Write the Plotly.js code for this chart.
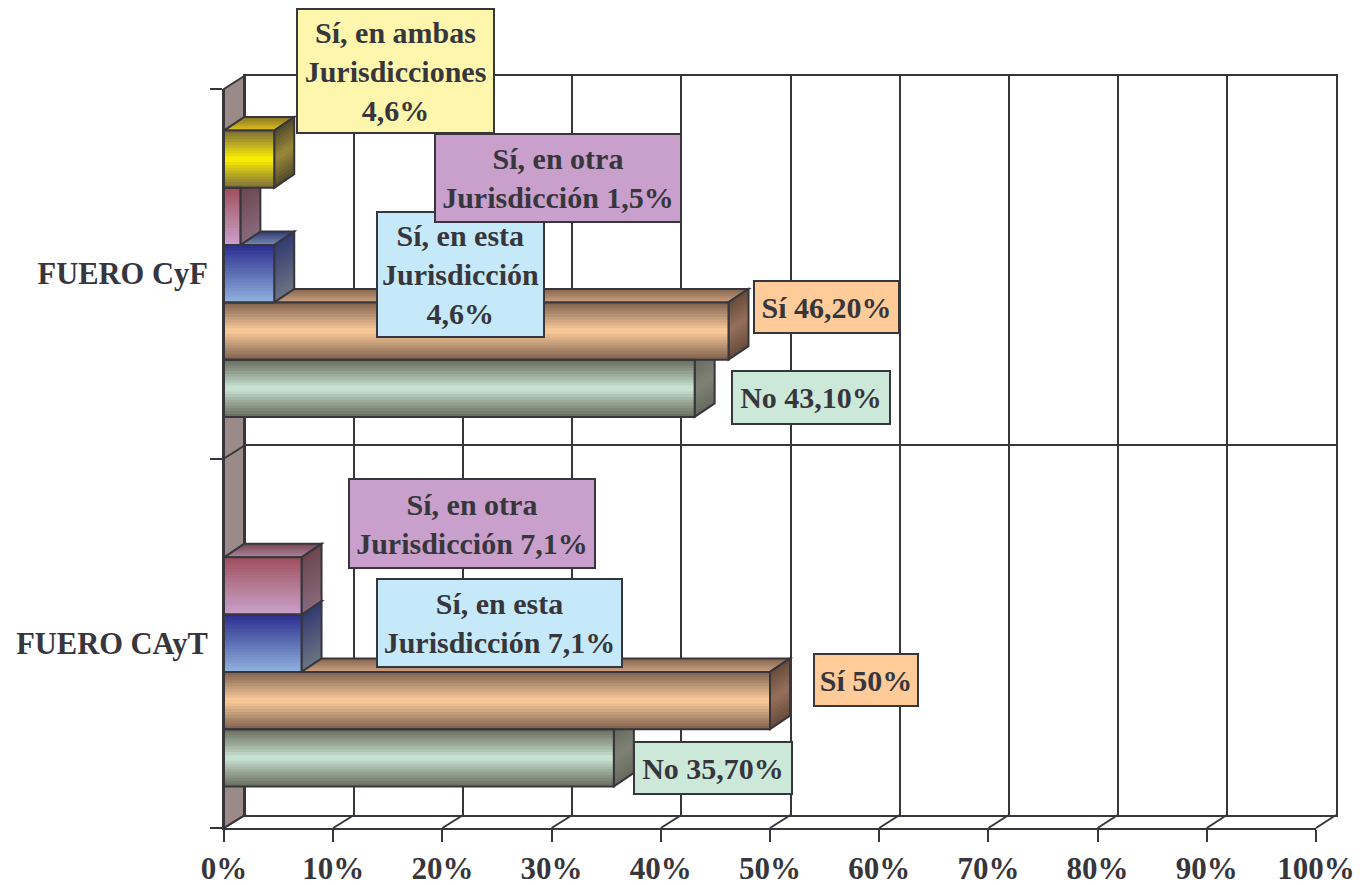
<!DOCTYPE html>
<html>
<head>
<meta charset="utf-8">
<script src="https://cdn.plot.ly/plotly-3.0.1.min.js"></script>
<style>html,body{margin:0;padding:0;background:#fff}#chart{width:1362px;height:885px}</style>
</head>
<body>
<div id="chart"></div>
<script>
// ---- data ----
const categories = ['FUERO CAyT', 'FUERO CyF'];
const valuesNo = [35.7, 43.1];
const valuesSi = [50, 46.2];
const valuesEsta = [7.1, 4.6];
const valuesOtra = [7.1, 1.5];
const valuesAmbas = [0, 4.6];
const xTickVals = [0, 10, 20, 30, 40, 50, 60, 70, 80, 90, 100];

// ---- label boxes: text, fill, left, right, top, bottom (in page pixels) ----
const labelText = [
  'No 35,70%', 'Sí 50%', 'Sí, en esta<br>Jurisdicción 7,1%', 'Sí, en otra<br>Jurisdicción 7,1%',
  'No 43,10%', 'Sí 46,20%', 'Sí, en esta<br>Jurisdicción<br>4,6%', 'Sí, en otra<br>Jurisdicción 1,5%',
  'Sí, en ambas<br>Jurisdicciones<br>4,6%'
];
const labelFill = ['#cce8d8', '#ffcc99', '#c6e9fa', '#c99fcb', '#cce8d8', '#ffcc99', '#c6e9fa', '#c99fcb', '#fff6ad'];
const labelBox = [
  [634, 792, 742, 794], [814, 918, 654, 706], [377, 622, 579, 667], [349, 595, 479, 568],
  [732, 890, 371, 424], [754, 899, 281, 333], [377, 544, 212, 337], [435, 681, 134, 222],
  [297, 494, 9, 133]
];

// ---- styling ----
const W = 1362, H = 885;
const frontL = 224, frontR = 1316, frontB = 828, frontT = 89;
const backL = 245, backR = 1336, backB = 815, backT = 75.5;
const ink = '#36363c';
const fontFam = '"Liberation Serif", "Times New Roman", serif';
const barW = 0.155, groupStart = -0.3875;
const dxData = 20 / (frontR - frontL) * 100;
const dyData = 13.5 / ((frontB - frontT) / 2);
const bandsFront = 20, bandsSide = 14, bandsTop = 6;

const seriesValues = [valuesNo, valuesSi, valuesEsta, valuesOtra, valuesAmbas];
// colour stops, first = top of bar
const frontStops = [
  ['#6c7262', '#9aa898', '#cce8d8', '#9aa898', '#6c7262'],
  ['#85654f', '#bf9a78', '#ffcc99', '#bf9a78', '#85654f'],
  ['#2e3192', '#5c70b4', '#8fb0dd'],
  ['#a0505f', '#b47a92', '#c99fcb'],
  ['#80723a', '#c0b020', '#fff200', '#c0b020', '#80723a']
];
const sideStops = [
  ['#686c5f', '#7f8275', '#686c5f'],
  ['#6b4e3d', '#94705c', '#6b4e3d'],
  ['#343c72', '#6a7282'],
  ['#6d4650', '#88687a'],
  ['#574e2c', '#9a8838', '#574e2c']
];
const topStops = [ // first = back edge
  ['#6c7262', '#9aa898'],
  ['#8a6a52', '#c89c7c'],
  ['#35407e', '#7484a8'],
  ['#7e4a58', '#a88098'],
  ['#8e7c22', '#d8ba20']
];

function hex(c) { return [1, 3, 5].map(i => parseInt(c.substr(i, 2), 16)); }
function mix(stops, t) {
  const n = stops.length - 1, p = Math.min(t * n, n - 1e-6), i = Math.floor(p), f = p - i;
  const a = hex(stops[i]), b = hex(stops[i + 1]);
  return 'rgb(' + a.map((v, k) => Math.round(v + (b[k] - v) * f)).join(',') + ')';
}

const traces = [];
// back wall axes: only carries the grid
traces.push({type: 'scatter', x: [0], y: [0], xaxis: 'x', yaxis: 'y', mode: 'none', hoverinfo: 'skip', showlegend: false});

const shapes = [];
const px = x => x / W, py = y => 1 - y / H;
function paperLine(x0, y0, x1, y1) {
  shapes.push({type: 'line', xref: 'paper', yref: 'paper', layer: 'below', x0: px(x0), y0: py(y0), x1: px(x1), y1: py(y1),
    line: {color: ink, width: 2}});
}
// left wall
shapes.push({type: 'path', xref: 'paper', yref: 'paper', layer: 'below', fillcolor: '#9b8b88', line: {color: ink, width: 2},
  path: `M${px(frontL)},${py(frontB)} L${px(backL)},${py(backB)} L${px(backL)},${py(backT)} L${px(frontL)},${py(frontT)} Z`});
// floor diagonals
xTickVals.forEach(v => {
  const f = frontL + (frontR - frontL) * v / 100, b = backL + (backR - backL) * v / 100;
  paperLine(f, frontB, b, backB);
});
paperLine(frontL, (frontB + frontT) / 2, backL, (backB + backT) / 2);

function poly(pts, fill, lineW) {
  shapes.push({type: 'path', xref: 'x2', yref: 'y2', layer: 'between', fillcolor: fill,
    line: lineW ? {color: ink, width: lineW} : {width: 0},
    path: 'M' + pts.map(p => p[0] + ',' + p[1]).join(' L') + ' Z'});
}

categories.forEach((cat, c) => {
  seriesValues.forEach((vals, s) => {
    const v = vals[c];
    if (!v) return;
    const lo = c + groupStart + s * barW, hi = lo + barW;
    // top face: each band runs from its back edge to the front edge, the next one paints over it
    for (let b = 0; b < bandsTop; b++) {
      const f = 1 - b / bandsTop;
      poly([[0, hi], [v, hi], [v + dxData * f, hi + dyData * f], [dxData * f, hi + dyData * f]], mix(topStops[s], b / (bandsTop - 1)));
    }
    poly([[0, hi], [v, hi], [v + dxData, hi + dyData], [dxData, hi + dyData]], 'rgba(0,0,0,0)', 2);
    // side face: same painting order, top to bottom
    for (let b = 0; b < bandsSide; b++) {
      const y0 = hi - barW * b / bandsSide;
      poly([[v, y0], [v + dxData, y0 + dyData], [v + dxData, lo + dyData], [v, lo]], mix(sideStops[s], b / (bandsSide - 1)));
    }
    poly([[v, hi], [v + dxData, hi + dyData], [v + dxData, lo + dyData], [v, lo]], 'rgba(0,0,0,0)', 2);
  });
});

// front faces: each series is one bar trace sliced into colour bands
seriesValues.forEach((vals, s) => {
  const y = [], x = [], offset = [], width = [], color = [];
  categories.forEach((cat, c) => {
    for (let b = 0; b < bandsFront; b++) {
      y.push(cat); x.push(vals[c]);
      offset.push(groupStart + s * barW);
      width.push(barW * (bandsFront - b) / bandsFront);
      color.push(mix(frontStops[s], b / (bandsFront - 1)));
    }
  });
  traces.push({type: 'bar', orientation: 'h', xaxis: 'x2', yaxis: 'y2', x, y, offset, width,
    marker: {color, line: {width: 0}}, hoverinfo: 'skip', showlegend: false});
});
// front outlines
seriesValues.forEach((vals, s) => {
  traces.push({type: 'bar', orientation: 'h', xaxis: 'x2', yaxis: 'y2', x: vals, y: categories,
    offset: groupStart + s * barW, width: barW,
    marker: {color: 'rgba(0,0,0,0)', line: {color: ink, width: vals.map(v => v ? 2 : 0)}},
    hoverinfo: 'skip', showlegend: false});
});

const annotations = labelText.map((t, i) => {
  const [l, r, tp, bt] = labelBox[i];
  return {xref: 'paper', yref: 'paper', x: px((l + r) / 2), y: py((tp + bt) / 2), xanchor: 'center', yanchor: 'middle',
    text: '<b>' + t + '</b>', showarrow: false, align: 'center', valign: 'middle',
    width: r - l - 2, height: bt - tp - 2, bgcolor: labelFill[i], bordercolor: ink, borderwidth: 2, borderpad: 0,
    font: {family: fontFam, size: 30, color: ink}};
});

const layout = {
  width: W, height: H, autosize: false,
  margin: {l: 0, r: 0, t: 0, b: 0},
  paper_bgcolor: '#ffffff', plot_bgcolor: 'rgba(0,0,0,0)',
  showlegend: false, barmode: 'overlay', hovermode: false,
  xaxis: {domain: [px(backL), px(backR)], range: [0, 100], tickvals: xTickVals, showticklabels: false, ticks: '',
    showgrid: true, gridcolor: ink, gridwidth: 2, zeroline: false, showline: true, linecolor: ink, linewidth: 2, mirror: true, anchor: 'y'},
  yaxis: {domain: [py(backB), py(backT)], range: [0, 2], tickvals: [0, 1, 2], showticklabels: false, ticks: '',
    showgrid: true, gridcolor: ink, gridwidth: 2, zeroline: false, showline: true, linecolor: ink, linewidth: 2, mirror: true, anchor: 'x'},
  xaxis2: {domain: [px(frontL), px(frontR)], range: [0, 100], tickvals: xTickVals, ticktext: xTickVals.map(v => v + '%'),
    anchor: 'y2', showgrid: false, zeroline: false, showline: true, linecolor: ink, linewidth: 2,
    ticks: 'outside', ticklen: 12, tickwidth: 2, tickcolor: ink,
    tickfont: {family: fontFam, size: 31, color: ink, weight: 'bold'}},
  yaxis2: {domain: [py(frontB), py(frontT)], type: 'category', categoryorder: 'array', categoryarray: categories, range: [-0.5, 1.5],
    anchor: 'x2', showgrid: false, zeroline: false, showline: true, linecolor: ink, linewidth: 2,
    ticks: 'outside', ticklen: 12, tickwidth: 2, tickcolor: ink, tickson: 'boundaries', ticklabelstandoff: 8,
    tickfont: {family: fontFam, size: 30.5, color: ink, weight: 'bold'}},
  shapes, annotations
};

Plotly.newPlot('chart', traces, layout, {staticPlot: true, displayModeBar: false});
</script>
</body>
</html>
